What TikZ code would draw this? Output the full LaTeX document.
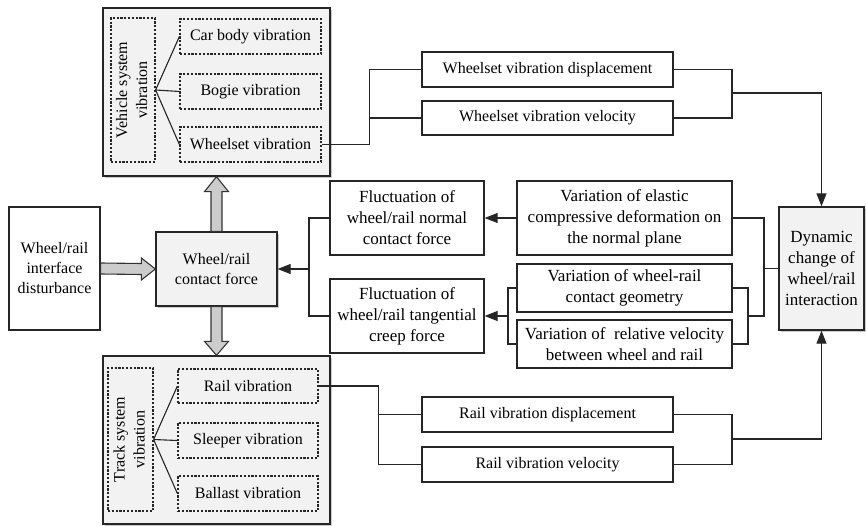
\documentclass[tikz,border=0pt]{standalone}
\usepackage{fontspec}
\usepackage{graphicx}
\setmainfont{Liberation Serif}
\usetikzlibrary{arrows.meta,shadows,calc}
\newcommand\fsA{\fontsize{16}{20}\selectfont}
\newcommand\fsB{\fontsize{17}{21}\selectfont}
\tikzset{
  box/.style={draw=black!85, line width=1.3pt, fill=white, align=center, inner sep=0pt, font=\fsA},
  gbox/.style={box, fill=black!5, drop shadow={shadow xshift=2pt, shadow yshift=-2pt, opacity=0.35, fill=black!60}},
  dbox/.style={draw=black!85, line width=1.2pt, dash pattern=on 2.2pt off 1.6pt, align=center, inner sep=0pt, font=\fsA},
  bigtxt/.style={font=\fsB},
  conn/.style={draw=black!85, line width=1.1pt},
  arr/.style={conn, -{Triangle[length=13pt,width=10pt]}},
  barrow/.style={draw=black!80, line width=1.1pt, fill=black!20, line join=miter},
}
\begin{document}
\begin{tikzpicture}[x=1pt,y=-1pt]
\useasboundingbox (0,0) rectangle (866,526);

% vehicle system
\node[gbox, minimum width=227, minimum height=168] (veh) at (216.5,92) {};
\node[dbox, minimum width=44, minimum height=144] (vehlab) at (133,90)
  {\rotatebox{90}{\begin{tabular}{@{}c@{}}Vehicle system\\vibration\end{tabular}}};
\node[dbox, minimum width=141, minimum height=35] (car) at (250.5,36.5) {Car body vibration};
\node[dbox, minimum width=141, minimum height=35] (bogie) at (250.5,91.5) {Bogie vibration};
\node[dbox, minimum width=141, minimum height=35] (wsv) at (250.5,144.5) {Wheelset vibration};
\foreach \n in {car,bogie,wsv} \draw[conn] (vehlab.east) -- (\n.west);

% track system
\node[gbox, minimum width=227, minimum height=168] (trk) at (216.5,440) {};
\node[dbox, minimum width=45, minimum height=143] (trklab) at (130.5,439.5)
  {\rotatebox{90}{\begin{tabular}{@{}c@{}}Track system\\vibration\end{tabular}}};
\node[dbox, minimum width=140, minimum height=34] (rail) at (248,386) {Rail vibration};
\node[dbox, minimum width=140, minimum height=35] (sleeper) at (248,440.5) {Sleeper vibration};
\node[dbox, minimum width=140, minimum height=35] (ballast) at (248,493.5) {Ballast vibration};
\foreach \n in {rail,sleeper,ballast} \draw[conn] (trklab.east) -- (\n.west);

% left
\node[box, minimum width=91, minimum height=123] (dist) at (54.5,268.5) {Wheel/rail\\interface\\disturbance};
\node[gbox, minimum width=121, minimum height=74] (contact) at (216.5,269) {Wheel/rail\\contact force};

% block arrows
\coordinate (u1) at (contact.north);
\coordinate (u2) at (veh.south);
\draw[barrow] ($(u1)+(-5.5,0)$) -- ($(u2)+(-5.5,15)$) -- ($(u2)+(-12,15)$) -- (u2)
  -- ($(u2)+(12,15)$) -- ($(u2)+(5.5,15)$) -- ($(u1)+(5.5,0)$) -- cycle;
\coordinate (d1) at (contact.south);
\coordinate (d2) at (trk.north);
\draw[barrow] ($(d1)+(-5.5,0)$) -- ($(d2)+(-5.5,-14)$) -- ($(d2)+(-12,-14)$) -- (d2)
  -- ($(d2)+(12,-14)$) -- ($(d2)+(5.5,-14)$) -- ($(d1)+(5.5,0)$) -- cycle;
\coordinate (r1) at (dist.east);
\coordinate (r2) at (contact.west);
\draw[barrow] ($(r1)+(0,-5.5)$) -- ($(r2)+(-14,-5.5)$) -- ($(r2)+(-14,-11)$) -- (r2)
  -- ($(r2)+(-14,11)$) -- ($(r2)+(-14,5.5)$) -- ($(r1)+(0,5.5)$) -- cycle;

% wheelset outputs
\node[box, minimum width=251, minimum height=35] (wdisp) at (547.5,69.5) {Wheelset vibration displacement};
\node[box, minimum width=251, minimum height=34] (wvel) at (547.5,118) {Wheelset vibration velocity};
\node[box, minimum width=251, minimum height=35] (rdisp) at (547.5,414.5) {Rail vibration displacement};
\node[box, minimum width=251, minimum height=35] (rvel) at (547.5,464.5) {Rail vibration velocity};

% middle
\node[box, bigtxt, minimum width=154, minimum height=74] (normal) at (407,218) {Fluctuation of\\wheel/rail normal\\contact force};
\node[box, bigtxt, minimum width=154, minimum height=74] (tang) at (407,316) {Fluctuation of\\wheel/rail tangential\\creep force};
\node[box, bigtxt, minimum width=215, minimum height=74] (elastic) at (624.5,218) {Variation of elastic\\compressive deformation on\\the normal plane};
\node[box, bigtxt, minimum width=215, minimum height=48] (geom) at (624.5,288) {Variation of wheel-rail\\contact geometry};
\node[box, bigtxt, minimum width=215, minimum height=48] (relvel) at (624.5,344) {Variation of~ relative velocity\\between wheel and rail};
\node[gbox, bigtxt, minimum width=85, minimum height=123] (dyn) at (821.5,268.5) {Dynamic\\change of\\wheel/rail\\interaction};

% connectors
\draw[conn] (wsv.east) -| ([xshift=-52pt]wvel.west) -- (wvel.west);
\draw[conn] ([xshift=-52pt]wvel.west) |- (wdisp.west);
\coordinate (jw) at (732,93);
\draw[conn] (wdisp.east) -| (jw) |- (wvel.east);
\draw[arr] (jw) -| (dyn.north);

\draw[conn] (rail.east) -| ([xshift=-43pt]rvel.west) -- (rvel.west);
\draw[conn] ([xshift=-43pt]rdisp.west) -- (rdisp.west);
\coordinate (jr) at (732,439);
\draw[conn] (rdisp.east) -| (jr) |- (rvel.east);
\draw[arr] (jr) -| (dyn.south);

\coordinate (jn) at (309,269);
\draw[conn] (normal.west) -| (jn) |- (tang.west);
\draw[arr] (jn) -- (contact.east);
\draw[arr] (elastic.west) -- (normal.east);
\coordinate (jt) at (508,316);
\draw[conn] (geom.west) -| (jt) |- (relvel.west);
\draw[arr] (jt) -- (tang.east);
\coordinate (jg) at (748,316);
\draw[conn] (geom.east) -| (jg) |- (relvel.east);
\coordinate (je) at (764,316);
\draw[conn] (elastic.east) -| (je) -- (jg);
\draw[conn] (je |- dyn.west) -- (dyn.west);
\end{tikzpicture}
\end{document}
